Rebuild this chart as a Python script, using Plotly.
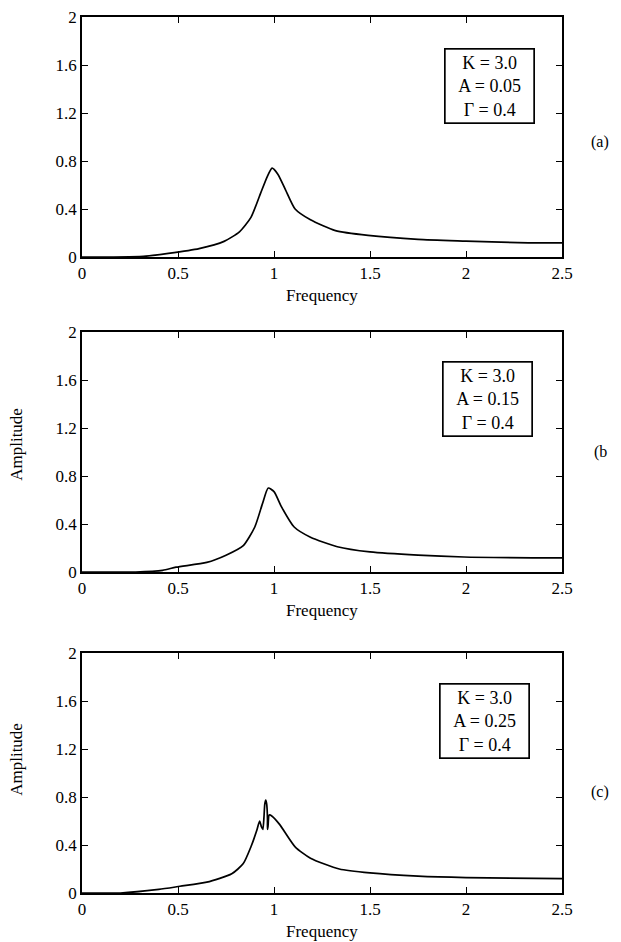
import plotly.graph_objects as go

# ---- data ----
freq_a = [0.0, 0.15, 0.32, 0.45, 0.61, 0.74, 0.82, 0.88, 0.93, 0.965, 0.99, 1.02, 1.06, 1.11, 1.19, 1.32, 1.49, 1.75, 2.0, 2.27, 2.5]
amp_a = [0.0, 0.0, 0.005, 0.03, 0.07, 0.13, 0.21, 0.33, 0.53, 0.67, 0.74, 0.69, 0.56, 0.40, 0.31, 0.22, 0.18, 0.147, 0.133, 0.12, 0.117]

freq_b = [0.0, 0.28, 0.42, 0.49, 0.65, 0.75, 0.84, 0.90, 0.94, 0.97, 1.0, 1.04, 1.105, 1.19, 1.33, 1.5, 1.75, 1.99, 2.5]
amp_b = [0.0, 0.0, 0.014, 0.04, 0.08, 0.14, 0.22, 0.375, 0.57, 0.70, 0.67, 0.54, 0.375, 0.29, 0.21, 0.167, 0.14, 0.125, 0.117]

freq_c = [0.0, 0.2, 0.40, 0.51, 0.65, 0.78, 0.84, 0.88, 0.91, 0.925, 0.935, 0.942, 0.948, 0.952, 0.957, 0.962, 0.966, 0.966, 0.969, 0.975, 0.99, 1.03, 1.11, 1.19, 1.34, 1.5, 1.75, 2.0, 2.5]
amp_c = [0.0, 0.0, 0.03, 0.056, 0.09, 0.16, 0.245, 0.385, 0.52, 0.60, 0.55, 0.53, 0.64, 0.74, 0.775, 0.74, 0.62, 0.53, 0.56, 0.65, 0.64, 0.57, 0.385, 0.29, 0.20, 0.167, 0.14, 0.128, 0.12]

K_vals = ["3.0", "3.0", "3.0"]
A_vals = ["0.05", "0.15", "0.25"]
Gamma_vals = ["0.4", "0.4", "0.4"]
panel_tags = ["(a)", "(b", "(c)"]
y_titles = ["", "Amplitude", "Amplitude"]

x_ticks = [0, 0.5, 1, 1.5, 2, 2.5]
y_ticks = [0, 0.4, 0.8, 1.2, 1.6, 2]

W, H = 621, 942
FONT = "Liberation Serif"

# panel geometry (page pixels)
x_left, x_right = 82, 562
panels_px = [(17, 257), (332, 572), (653, 893)]

fig = go.Figure()
series = [(freq_a, amp_a), (freq_b, amp_b), (freq_c, amp_c)]

for i, (fx, fy) in enumerate(series):
    n = i + 1
    xa = "x" if n == 1 else f"x{n}"
    ya = "y" if n == 1 else f"y{n}"
    fig.add_trace(go.Scatter(x=fx, y=fy, mode="lines", xaxis=xa, yaxis=ya,
                             line=dict(color="black", width=1.7, shape="spline", smoothing=0.6),
                             showlegend=False, hoverinfo="skip"))
    top, bot = panels_px[i]
    dom_y = [(H - bot) / H, (H - top) / H]
    xkey = "xaxis" if n == 1 else f"xaxis{n}"
    ykey = "yaxis" if n == 1 else f"yaxis{n}"
    fig.layout[xkey] = dict(
        domain=[x_left / W, x_right / W], anchor=ya, range=[0, 2.5],
        tickvals=x_ticks, ticks="inside", ticklen=6, tickwidth=1.2,
        tickcolor="black", showline=True, linecolor="black", linewidth=1.7,
        mirror="ticks", showgrid=False, zeroline=False, automargin=False,
        ticklabeloverflow="allow",
        tickfont=dict(family=FONT, size=17, color="black"),
    )
    fig.layout[ykey] = dict(
        domain=dom_y, anchor=xa, range=[0, 2],
        tickvals=y_ticks, ticks="inside", ticklen=6, tickwidth=1.2,
        tickcolor="black", showline=True, linecolor="black", linewidth=1.7,
        mirror="ticks", showgrid=False, zeroline=False, automargin=False,
        ticklabeloverflow="allow",
        tickfont=dict(family=FONT, size=17, color="black"),
    )
    # x-axis title
    fig.add_annotation(
        x=1.25, y=(H - bot - 38) / H, xref=xa, yref="paper", showarrow=False,
        xanchor="center", yanchor="middle",
        text="Frequency", font=dict(family=FONT, size=17, color="black"),
    )
    # y-axis title
    if y_titles[i]:
        fig.add_annotation(
            x=17 / W, y=[0, 1.06, 1.11][i], xref="paper", yref=ya, showarrow=False,
            xanchor="center", yanchor="middle",
            text=y_titles[i], textangle=-90,
            font=dict(family=FONT, size=17, color="black"),
        )
    # parameter box
    box_x = [2.12, 2.11, 2.096][i]
    box_y = [1.425, 1.44, 1.43][i]
    fig.add_annotation(
        x=box_x, y=box_y, xref=xa, yref=ya, showarrow=False,
        xanchor="center", yanchor="middle",
        text=f"K = {K_vals[i]}<br>A = {A_vals[i]}<br>Γ = {Gamma_vals[i]}",
        font=dict(family=FONT, size=18, color="black"), align="center",
        bordercolor="black", borderwidth=1.7, borderpad=3, bgcolor="white",
        width=82,
    )
    # panel tag
    tag_y = [0.96, 1.0, 0.84][i]
    fig.add_annotation(
        x=600 / W, y=tag_y, xref="paper", yref=ya, showarrow=False,
        xanchor="center", yanchor="middle",
        text=panel_tags[i], font=dict(family=FONT, size=16, color="black"),
    )

fig.update_layout(
    width=W, height=H, margin=dict(l=0, r=0, t=0, b=0),
    paper_bgcolor="white", plot_bgcolor="white",
)

fig.write_html("out.html", config={"displayModeBar": False},
               post_script="document.body.style.margin='0px';document.body.style.padding='0px';")
